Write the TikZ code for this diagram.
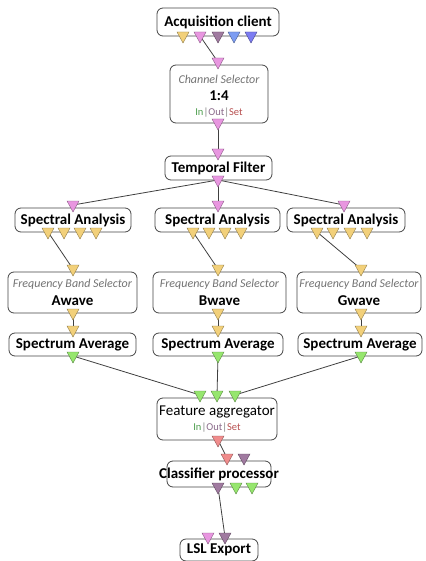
\documentclass[tikz,border=0pt]{standalone}
\usepackage{fontspec}
\setmainfont{Carlito}
\usetikzlibrary{backgrounds}
\definecolor{ycol}{HTML}{F2D07A}
\definecolor{pcol}{HTML}{E896E0}
\definecolor{pucol}{HTML}{A07AA0}
\definecolor{bcol}{HTML}{7C9CF2}
\definecolor{bbcol}{HTML}{7C7CF2}
\definecolor{gcol}{HTML}{96E66E}
\definecolor{scol}{HTML}{F08C8C}
\definecolor{linecol}{HTML}{404040}
\definecolor{boxcol}{HTML}{454545}
\definecolor{ingreen}{HTML}{4F9F4F}
\definecolor{outpurple}{HTML}{8A6A8A}
\definecolor{setred}{HTML}{B85050}
\newcommand\mkport[4]{% name, x, ytop, colour
  \coordinate (#1c) at (#2,#3+4);
  \fill[#4, draw=#4!60!black, line width=0.4pt] (#2-6,#3) -- (#2+6,#3) -- (#2,#3+11) -- cycle;}
\newcommand\iosline{{\color{ingreen}In}{\color{gray}|}{\color{outpurple}Out}{\color{gray}|}{\color{setred}Set}}
\begin{document}
\begin{tikzpicture}[x=1pt,y=-1pt,
  boxst/.style={draw=boxcol, fill=white, rounded corners=6pt, line width=0.8pt, inner sep=0pt},
  titlest/.style={font=\fontsize{15}{17}\selectfont\bfseries, inner sep=0pt},
  subst/.style={font=\fontsize{12}{14}\selectfont\itshape, text=black!55, inner sep=0pt},
  iost/.style={font=\fontsize{10.5}{13}\selectfont, inner sep=0pt},
  linkst/.style={draw=linecol, line width=0.8pt}]
\useasboundingbox (0,0) rectangle (425,561);
% boxes
\node[boxst, minimum width=122pt, minimum height=28pt] (acq) at (218,22) {};
\node[boxst, minimum width=98pt, minimum height=58pt] (chsel) at (219,94) {};
\node[boxst, minimum width=107pt, minimum height=24pt] (temp) at (218.5,168) {};
\node[boxst, minimum width=116pt, minimum height=24pt] (saA) at (73,220) {};
\node[boxst, minimum width=125pt, minimum height=24pt] (saB) at (217.5,220) {};
\node[boxst, minimum width=118pt, minimum height=24pt] (saC) at (346,220) {};
\node[boxst, minimum width=129pt, minimum height=41pt] (fbA) at (72.5,292.5) {};
\node[boxst, minimum width=133pt, minimum height=41pt] (fbB) at (219.5,292.5) {};
\node[boxst, minimum width=124pt, minimum height=41pt] (fbC) at (359,292.5) {};
\node[boxst, minimum width=127pt, minimum height=23pt] (avA) at (72.5,344.5) {};
\node[boxst, minimum width=130pt, minimum height=23pt] (avB) at (218,344.5) {};
\node[boxst, minimum width=124pt, minimum height=23pt] (avC) at (360,344.5) {};
\node[boxst, minimum width=120pt, minimum height=42pt] (feat) at (217,419) {};
\node[boxst, minimum width=104pt, minimum height=26pt] (clf) at (219,474) {};
\node[boxst, minimum width=78pt, minimum height=22pt] (lsl) at (219,550) {};
% texts
\node[titlest] (tacq) at (218,22) {Acquisition client};
\node[subst] (tch1) at (219,79) {Channel Selector};
\node[titlest] (tch2) at (219,96) {1:4};
\node[iost] (tch3) at (219,113) {\iosline};
\node[titlest] (ttemp) at (218.5,168) {Temporal Filter};
\node[titlest] (tsaA) at (73,220) {Spectral Analysis};
\node[titlest] (tsaB) at (217.5,220) {Spectral Analysis};
\node[titlest] (tsaC) at (346,220) {Spectral Analysis};
\node[subst] (tfbA1) at (72.5,284) {Frequency Band Selector};
\node[titlest] (tfbA2) at (72.5,301) {Awave};
\node[subst] (tfbB1) at (219.5,284) {Frequency Band Selector};
\node[titlest] (tfbB2) at (219.5,301) {Bwave};
\node[subst] (tfbC1) at (359,284) {Frequency Band Selector};
\node[titlest] (tfbC2) at (359,301) {Gwave};
\node[titlest] (tavA) at (72.5,345) {Spectrum Average};
\node[titlest] (tavB) at (218,345) {Spectrum Average};
\node[titlest] (tavC) at (360,345) {Spectrum Average};
\node[titlest, font=\fontsize{15}{17}\selectfont] (tfeat) at (217,412) {Feature aggregator};
\node[iost] (tfeat2) at (217,428) {\iosline};
\node[titlest] (tclf) at (219,474) {Classifier processor};
\node[titlest] (tlsl) at (219,550) {LSL Export};
% ports
\mkport{acqo1}{183}{32}{ycol}
\mkport{acqo2}{200}{32}{pcol}
\mkport{acqo3}{218}{32}{pucol}
\mkport{acqo4}{234}{32}{bcol}
\mkport{acqo5}{251}{32}{bbcol}
\mkport{chi}{218}{58}{pcol}
\mkport{cho}{218}{119}{pcol}
\mkport{tfi}{218}{149}{pcol}
\mkport{tfo}{218}{176}{pcol}
\mkport{saAi}{73}{201}{pcol}
\mkport{saBi}{218}{201}{pcol}
\mkport{saCi}{344}{201}{pcol}
\mkport{saAo1}{48}{228}{ycol}
\mkport{saAo2}{64}{228}{ycol}
\mkport{saAo3}{80}{228}{ycol}
\mkport{saAo4}{96}{228}{ycol}
\mkport{saBo1}{193}{228}{ycol}
\mkport{saBo2}{209}{228}{ycol}
\mkport{saBo3}{225}{228}{ycol}
\mkport{saBo4}{241}{228}{ycol}
\mkport{saCo1}{317}{228}{ycol}
\mkport{saCo2}{333}{228}{ycol}
\mkport{saCo3}{350}{228}{ycol}
\mkport{saCo4}{367}{228}{ycol}
\mkport{fbAi}{73}{265}{ycol}
\mkport{fbBi}{218}{265}{ycol}
\mkport{fbCi}{361}{265}{ycol}
\mkport{fbAo}{73}{309}{ycol}
\mkport{fbBo}{218}{309}{ycol}
\mkport{fbCo}{361}{309}{ycol}
\mkport{avAi}{73}{326}{ycol}
\mkport{avBi}{218}{326}{ycol}
\mkport{avCi}{361}{326}{ycol}
\mkport{avAo}{73}{352}{gcol}
\mkport{avBo}{218}{352}{gcol}
\mkport{avCo}{361}{352}{gcol}
\mkport{fei1}{200}{391}{gcol}
\mkport{fei2}{217}{391}{gcol}
\mkport{fei3}{235}{391}{gcol}
\mkport{feo}{218}{436}{scol}
\mkport{cli1}{227}{454}{scol}
\mkport{cli2}{244}{454}{pucol}
\mkport{clo1}{218}{483}{pucol}
\mkport{clo2}{236}{483}{gcol}
\mkport{clo3}{252}{483}{gcol}
\mkport{lsi1}{208}{533}{pcol}
\mkport{lsi2}{225}{533}{pucol}
% links
\begin{scope}[on background layer]
\draw[linkst] (acqo2c) -- (chic);
\draw[linkst] (choc) -- (tfic);
\draw[linkst] (tfoc) -- (saAic);
\draw[linkst] (tfoc) -- (saBic);
\draw[linkst] (tfoc) -- (saCic);
\draw[linkst] (saAo1c) -- (fbAic);
\draw[linkst] (saBo1c) -- (fbBic);
\draw[linkst] (saCo1c) -- (fbCic);
\draw[linkst] (fbAoc) -- (avAic);
\draw[linkst] (fbBoc) -- (avBic);
\draw[linkst] (fbCoc) -- (avCic);
\draw[linkst] (avAoc) -- (fei1c);
\draw[linkst] (avBoc) -- (fei2c);
\draw[linkst] (avCoc) -- (fei3c);
\draw[linkst] (feoc) -- (cli1c);
\draw[linkst] (clo1c) -- (lsi2c);
\end{scope}
\end{tikzpicture}
\end{document}
